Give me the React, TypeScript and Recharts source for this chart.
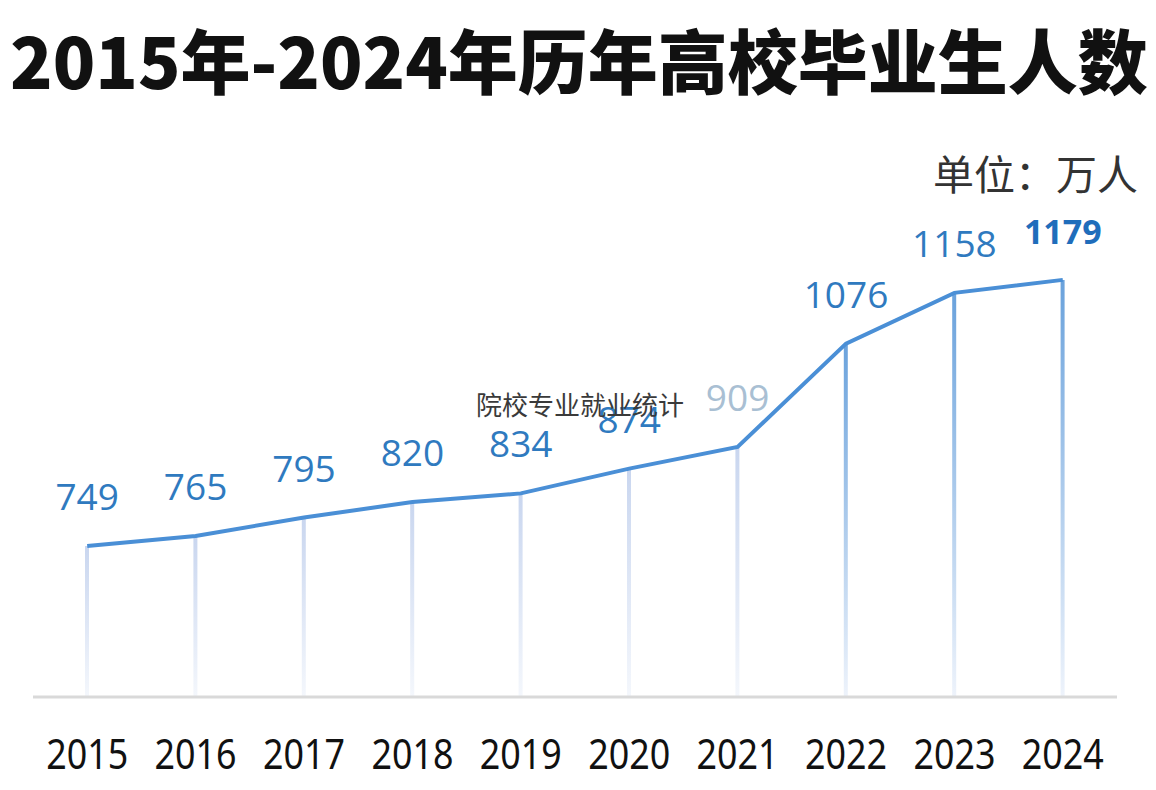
import { Bar, Cell, ComposedChart, LabelList, Line, XAxis, YAxis } from "recharts";

const years = ["2015", "2016", "2017", "2018", "2019", "2020", "2021", "2022", "2023", "2024"];
const graduates = [749, 765, 795, 820, 834, 874, 909, 1076, 1158, 1179];

const data = years.map((year, i) => ({ year, value: graduates[i] }));

const LINE_BLUE = "#4a8fd6";
const LABEL_BLUE = "#2f7abf";

const ValueLabel = (props: any) => {
  const { x, y, value, index } = props;
  const last = index === graduates.length - 1;
  const faded = years[index] === "2021";
  return (
    <text
      x={x}
      y={y - 36}
      textAnchor="middle"
      fontFamily="'Open Sans', 'Noto Sans', sans-serif"
      fontSize={last ? 34 : 37}
      fontWeight={last ? 700 : 400}
      fill={last ? "#1f6dbb" : faded ? "#a9bfd3" : LABEL_BLUE}
    >
      {value}
    </text>
  );
};

const YearTick = (props: any) => {
  const { x, y, payload } = props;
  return (
    <text
      x={x}
      y={y + 70}
      textAnchor="middle"
      fontFamily="'Noto Sans', sans-serif"
      fontSize={42}
      textLength={82}
      lengthAdjust="spacingAndGlyphs"
      fill="#111"
    >
      {payload.value}
    </text>
  );
};

export default function App() {
  return (
    <div style={{ position: "absolute", left: 0, top: 0, width: 1156, height: 790, background: "#fff", overflow: "hidden" }}>
      <div
        style={{
          position: "absolute",
          left: 10,
          top: 14,
          width: 1140,
          fontFamily: "'Noto Sans CJK SC', sans-serif",
          fontWeight: 900,
          fontSize: 70,
          lineHeight: "90px",
          color: "#111",
          whiteSpace: "nowrap",
        }}
      >
        2015年-2024年历年高校毕业生人数
      </div>
      <div
        style={{
          position: "absolute",
          left: 933,
          top: 146,
          fontFamily: "'Noto Sans CJK SC', sans-serif",
          fontSize: 41,
          lineHeight: "52px",
          color: "#333",
          whiteSpace: "nowrap",
        }}
      >
        单位：万人
      </div>
      <ComposedChart
        width={1156}
        height={790}
        data={data}
        margin={{ top: 205, right: 39, bottom: 0, left: 33 }}
        style={{ position: "absolute", left: 0, top: 0 }}
      >
        <defs>
          <linearGradient id="dropLight" x1="0" y1="0" x2="0" y2="1">
            <stop offset="0%" stopColor="#c9d6ef" />
            <stop offset="100%" stopColor="#f4f7fc" />
          </linearGradient>
          <linearGradient id="dropStrong" x1="0" y1="0" x2="0" y2="1">
            <stop offset="0%" stopColor="#6aa2dc" />
            <stop offset="100%" stopColor="#eef3fb" />
          </linearGradient>
        </defs>
        <XAxis
          dataKey="year"
          height={93}
          tickLine={false}
          tickSize={0}
          axisLine={{ stroke: "#d9d9d9", strokeWidth: 3 }}
          tick={<YearTick />}
          interval={0}
        />
        <YAxis hide domain={[505, 1300]} />
        <Bar dataKey="value" barSize={4} isAnimationActive={false}>
          {data.map((d, i) => (
            <Cell key={d.year} fill={i >= 7 ? "url(#dropStrong)" : "url(#dropLight)"} />
          ))}
        </Bar>
        <Line
          dataKey="value"
          type="linear"
          stroke={LINE_BLUE}
          strokeWidth={4}
          dot={false}
          activeDot={false}
          isAnimationActive={false}
        >
          <LabelList dataKey="value" content={<ValueLabel />} />
        </Line>
      </ComposedChart>
      <div
        style={{
          position: "absolute",
          left: 476,
          top: 386,
          fontFamily: "'Noto Sans CJK SC', sans-serif",
          fontSize: 26,
          lineHeight: "36px",
          color: "#3a3a3a",
          whiteSpace: "nowrap",
        }}
      >
        院校专业就业统计
      </div>
    </div>
  );
}
